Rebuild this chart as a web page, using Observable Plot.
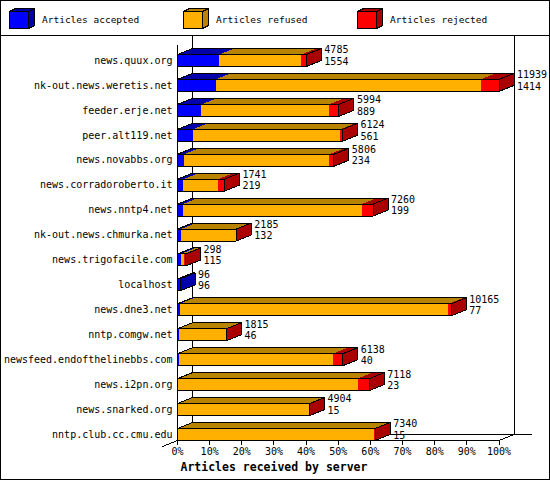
<!DOCTYPE html>
<html>
<head>
<meta charset="utf-8">
<script src="https://cdn.jsdelivr.net/npm/d3@7"></script>
<script src="https://cdn.jsdelivr.net/npm/@observablehq/plot@0.6"></script>
<style>
  html, body { margin: 0; padding: 0; background: #fff; }
  #frame { position: relative; width: 548px; height: 478px; border: 1px solid #000; background: #fff; overflow: hidden; }
  #legend { position: absolute; left: 0; top: 0; width: 548px; height: 34px; border-bottom: 1px solid #000; }
  #chart { position: absolute; left: 0; top: 35px; }
  .item { position: absolute; top: 0; height: 34px; }
  .item svg { position: absolute; left: 0; top: 6px; }
  .item span { position: absolute; top: 13px; white-space: nowrap; font: 9.5px "DejaVu Sans Mono", monospace; color: #000; line-height: 12px; }
  #chart svg path, #chart svg line { shape-rendering: crispEdges; }
</style>
</head>
<body>
<div id="frame">
  <div id="legend"></div>
  <div id="chart"></div>
</div>
<script>
// ---- data ----
const servers = [
  "news.quux.org", "nk-out.news.weretis.net", "feeder.erje.net", "peer.alt119.net",
  "news.novabbs.org", "news.corradoroberto.it", "news.nntp4.net", "nk-out.news.chmurka.net",
  "news.trigofacile.com", "localhost", "news.dne3.net", "nntp.comgw.net",
  "newsfeed.endofthelinebbs.com", "news.i2pn.org", "news.snarked.org", "nntp.club.cc.cmu.edu"
];
const totals   = [4785, 11939, 5994, 6124, 5806, 1741, 7260, 2185, 298, 96, 10165, 1815, 6138, 7118, 4904, 7340];
const accepted = [1554, 1414, 889, 561, 234, 219, 199, 132, 115, 96, 77, 46, 40, 23, 15, 15];
const refused  = [3041, 9845, 4745, 5478, 5402, 1292, 6651, 2041, 130, 0, 9978, 1739, 5723, 6665, 4877, 7295];
const rejected = [190, 680, 360, 85, 170, 230, 410, 12, 53, 0, 110, 30, 375, 430, 12, 30];
const seriesNames = ["Articles accepted", "Articles refused", "Articles rejected"];
const frontColors = ["#0000ff", "#ffb000", "#ff0000"];
const darkColors  = ["#0000aa", "#b88400", "#aa0000"];
const tickValues = d3.range(0, 101, 10);
const axisTitle = "Articles received by server";

// ---- layout constants (pixels) ----
const W = 548, Hsvg = 443;
const mL = 176, mR = 50.5, mB = 39;
const yRange = [24, 398];
const pxPerPct = (W - mL - mR) / 100;
const rowPx = (yRange[1] - yRange[0]) / (servers.length - 1);
const DX = 15 / pxPerPct;     // depth in x (percent units)
const DY = 6 / rowPx;         // depth in y (row units)
const HH = 6 / rowPx;         // half bar height (row units)

const maxTotal = d3.max(totals);
const pct = v => v / maxTotal * 100;

const fills = [];     // filled faces
const outlines = [];  // black outlines
let pid = 0;
function poly(arr, pts, fill) {
  const id = pid++;
  pts.forEach(([x, y]) => arr.push({x, y, id, fill}));
}
const series = [accepted, refused, rejected];
servers.forEach((name, i) => {
  const vals = series.map(s => s[i]);
  let lastK = -1;
  vals.forEach((v, k) => { if (v > 0) lastK = k; });
  const yt = i - HH, yb = i + HH;
  let s = 0;
  const tops = [], fronts = [], sides = [];
  vals.forEach((v, k) => {
    if (v <= 0) return;
    const e = s + pct(v);
    tops.push([[[s, yt], [e, yt], [e + DX, yt - DY], [s + DX, yt - DY]], darkColors[k]]);
    fronts.push([[[s, yt], [e, yt], [e, yb], [s, yb]], frontColors[k]]);
    if (k === lastK) sides.push([[[e, yt], [e + DX, yt - DY], [e + DX, yb - DY], [e, yb]], darkColors[k]]);
    s = e;
  });
  tops.forEach(([p, c]) => poly(fills, p, c));
  sides.forEach(([p, c]) => poly(fills, p, c));
  fronts.forEach(([p, c]) => poly(fills, p, c));
  poly(outlines, [[0, yt], [s, yt], [s, yb], [0, yb]], "none");
  poly(outlines, [[0, yt], [DX, yt - DY], [s + DX, yt - DY], [s, yt]], "none");
  poly(outlines, [[s, yt], [s + DX, yt - DY], [s + DX, yb - DY], [s, yb]], "none");
});

const rows = servers.map((name, i) => ({i, name, total: totals[i], acc: accepted[i], x: pct(totals[i])}));
const last = servers.length - 1;
const floorFront = last + HH;
const floorBack = last + HH - DY;

const chart = Plot.plot({
  width: W,
  height: Hsvg,
  marginLeft: mL,
  marginRight: mR,
  marginTop: 0,
  marginBottom: mB,
  style: {fontFamily: "DejaVu Sans Mono", fontSize: "10px", color: "#000", background: "transparent", overflow: "visible"},
  x: {domain: [0, 100], ticks: 10, tickFormat: d => d + "%", tickSize: 5, tickPadding: 2, line: true, label: null},
  y: {domain: [0, last], range: yRange, axis: null},
  color: {type: "identity"},
  marks: [
    // back wall / floor
    Plot.ruleX([DX], {stroke: "#000", insetBottom: 5}),
    Plot.ruleX([100 + DX], {stroke: "#000", insetBottom: 5}),
    Plot.ruleX([0], {stroke: "#000", insetTop: 9}),
    Plot.ruleY([floorBack], {x1: DX, x2: 100 + (15 + 18) / pxPerPct, stroke: "#000"}),
    Plot.link([{x1: 100, y1: floorFront, x2: 100 + DX, y2: floorBack}], {x1: "x1", y1: "y1", x2: "x2", y2: "y2", stroke: "#000"}),
    Plot.link([{x1: 0, y1: floorFront, x2: -DX, y2: floorFront + DY}], {x1: "x1", y1: "y1", x2: "x2", y2: "y2", stroke: "#000"}),
    // bars
    Plot.line(fills, {x: "x", y: "y", z: "id", fill: "fill", stroke: "none", curve: "linear-closed"}),
    Plot.line(outlines, {x: "x", y: "y", z: "id", fill: "none", stroke: "#000", strokeWidth: 1, curve: "linear-closed"}),
    // labels
    Plot.text(rows, {x: 0, y: "i", text: "name", dx: -5, textAnchor: "end", lineAnchor: "middle", fill: "#000", fontSize: 10}),
    Plot.text(rows, {x: "x", y: "i", text: d => String(d.total), dx: 18, dy: -10.3, textAnchor: "start", lineAnchor: "middle", fill: "#000", fontSize: 10}),
    Plot.text(rows, {x: "x", y: "i", text: d => String(d.acc), dx: 18, dy: 1, textAnchor: "start", lineAnchor: "middle", fill: "#000", fontSize: 10}),
    Plot.text([axisTitle], {frameAnchor: "bottom-left", text: d => d, dx: 3, dy: 27, textAnchor: "start", lineAnchor: "middle", fontWeight: "bold", fontSize: 11.5, fill: "#000"})
  ]
});
document.getElementById("chart").appendChild(chart);

// ---- legend ----
const legend = document.getElementById("legend");
const lefts = [8, 182, 356];
seriesNames.forEach((name, k) => {
  const item = document.createElement("div");
  item.className = "item";
  item.style.left = lefts[k] + "px";
  item.innerHTML =
    `<svg width="30" height="24" shape-rendering="crispEdges">
      <polygon points="0.5,4.5 19.5,4.5 25.5,1.5 6.5,1.5" fill="${darkColors[k]}" stroke="#000"/>
      <polygon points="19.5,4.5 25.5,1.5 25.5,18.5 19.5,21.5" fill="${darkColors[k]}" stroke="#000"/>
      <rect x="0.5" y="4.5" width="19" height="17" fill="${frontColors[k]}" stroke="#000"/>
    </svg><span style="left:33px">${name}</span>`;
  legend.appendChild(item);
});
</script>
</body>
</html>
